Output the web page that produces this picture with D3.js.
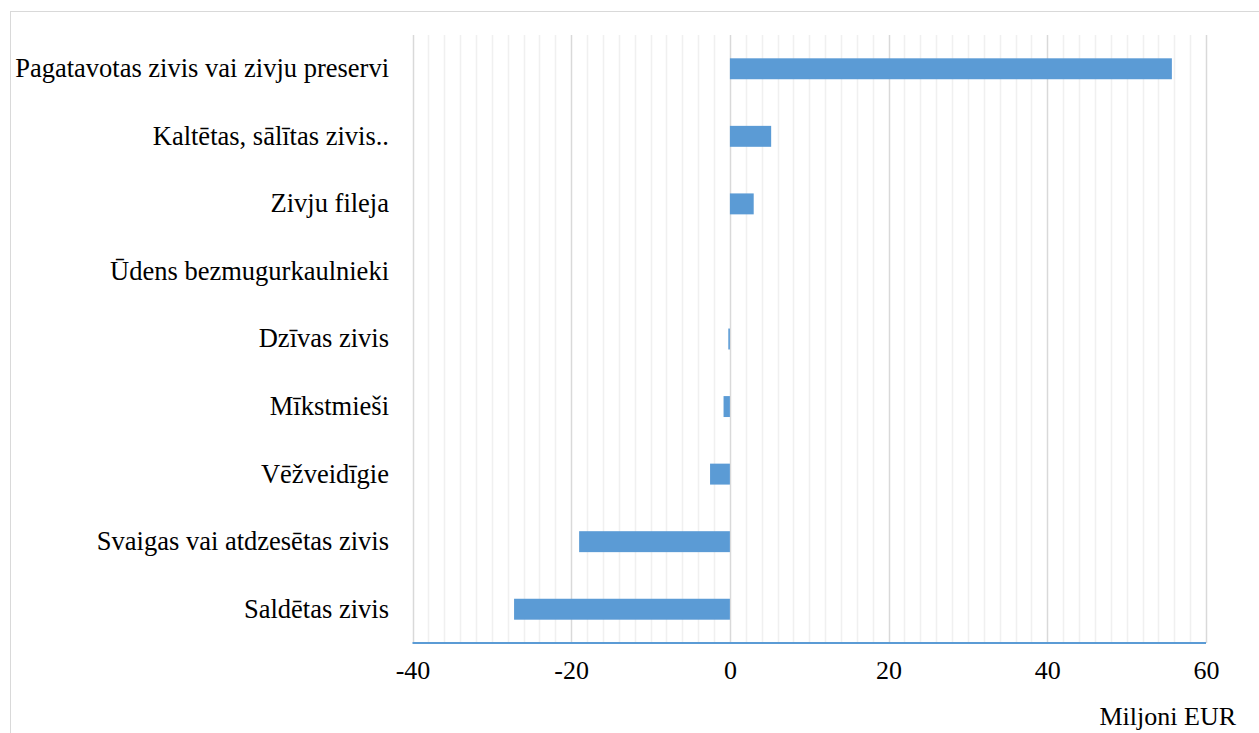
<!DOCTYPE html>
<html><head><meta charset="utf-8">
<script src="https://cdn.jsdelivr.net/npm/d3@7"></script>
<style>body{margin:0;background:#fff}svg{display:block}
text{font-family:"Liberation Serif","Times New Roman",serif;fill:#000}</style>
</head><body>
<svg id="c" width="1259" height="733"></svg>
<script>
const categories = ["Pagatavotas zivis vai zivju preservi","Kaltētas, sālītas zivis..","Zivju fileja","Ūdens bezmugurkaulnieki","Dzīvas zivis","Mīkstmieši","Vēžveidīgie","Svaigas vai atdzesētas zivis","Saldētas zivis"];
const values = [55.7, 5.2, 3.0, 0, -0.2, -0.8, -2.5, -19.0, -27.2];
const majorTicks = [-40, -20, 0, 20, 40, 60];
const axisTitle = "Miljoni EUR";

const svg = d3.select("#c");
const L = 412.5, R = 1206, T = 35, B = 643;
const x = d3.scaleLinear().domain([-40, 60]).range([L, R]);
const y = d3.scaleBand().domain(categories).range([T, B]).paddingInner(0.69).paddingOuter(0.345);

// outer border
svg.append("rect").attr("x", 10.5).attr("y", 11.5).attr("width", 1300).attr("height", 800)
  .attr("fill", "none").attr("stroke", "#d9d9d9").attr("stroke-width", 1);

// minor grid
const minor = d3.range(-40, 61, 2).filter(v => v % 20 !== 0);
svg.append("g").selectAll("line").data(minor).join("line")
  .attr("x1", d => Math.round(x(d)) + 0.5).attr("x2", d => Math.round(x(d)) + 0.5)
  .attr("y1", T).attr("y2", B).attr("stroke", "#f0f0f0").attr("stroke-width", 1.5);
// major grid
svg.append("g").selectAll("line").data(majorTicks).join("line")
  .attr("x1", d => Math.round(x(d)) + 0.5).attr("x2", d => Math.round(x(d)) + 0.5)
  .attr("y1", T).attr("y2", B).attr("stroke", "#d9d9d9").attr("stroke-width", 1.5);

// bars
svg.append("g").selectAll("rect").data(categories).join("rect")
  .attr("x", (d, i) => x(Math.min(0, values[i])))
  .attr("width", (d, i) => Math.abs(x(values[i]) - x(0)))
  .attr("y", d => y(d)).attr("height", y.bandwidth())
  .attr("fill", "#5b9bd5");

// x axis line
svg.append("line").attr("x1", L).attr("x2", R).attr("y1", B).attr("y2", B)
  .attr("stroke", "#5b9bd5").attr("stroke-width", 2);

// tick labels
const xAxis = d3.axisBottom(x).tickValues(majorTicks).tickSize(0).tickPadding(0).tickFormat(d => String(d));
const ax = svg.append("g").attr("transform", `translate(0,${B})`).call(xAxis);
ax.attr("font-family", null).attr("font-size", null);
ax.select(".domain").remove();
ax.selectAll("text").attr("y", 36).attr("dy", 0).attr("font-size", 26).attr("fill", "#000");

// category labels
const yAxis = d3.axisLeft(y).tickSize(0).tickPadding(0);
const ay = svg.append("g").attr("transform", `translate(389,0)`).call(yAxis);
ay.attr("font-family", null).attr("font-size", null);
ay.select(".domain").remove();
ay.selectAll("text").attr("dy", "0.32em").attr("font-size", 26.5).attr("fill", "#000");

// axis title
svg.append("text").attr("x", 1236).attr("y", 725).attr("text-anchor", "end")
  .attr("font-size", 26).text(axisTitle);
</script>
</body></html>
